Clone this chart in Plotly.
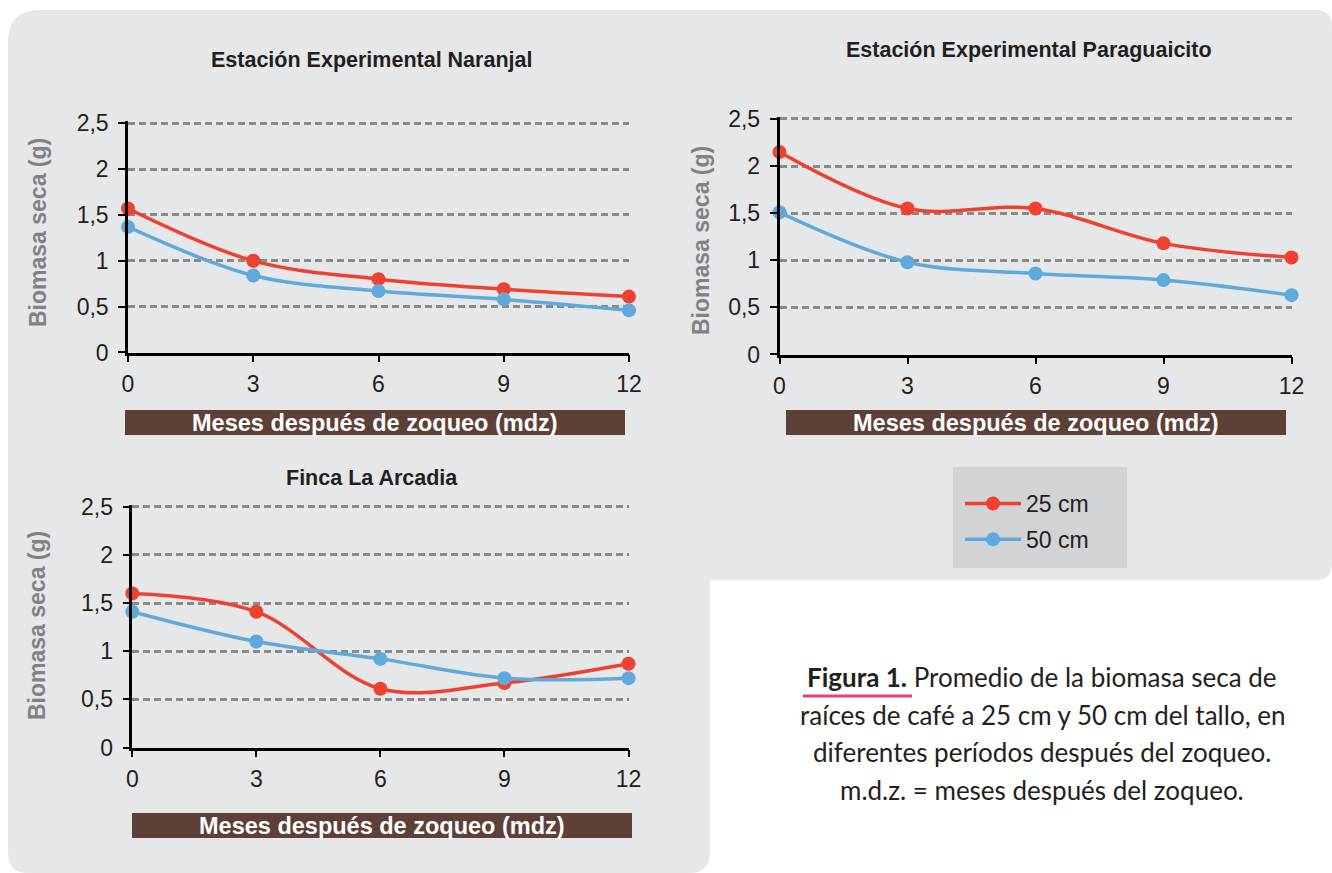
import plotly.graph_objects as go

# ---------------- data ----------------
months = [0, 3, 6, 9, 12]
series_names = ["25 cm", "50 cm"]

naranjal_25 = [1.57, 1.00, 0.80, 0.69, 0.61]
naranjal_50 = [1.37, 0.84, 0.67, 0.58, 0.46]

paraguaicito_25 = [2.15, 1.55, 1.55, 1.18, 1.03]
paraguaicito_50 = [1.51, 0.98, 0.86, 0.79, 0.63]

arcadia_25 = [1.60, 1.41, 0.61, 0.67, 0.87]
arcadia_50 = [1.41, 1.10, 0.92, 0.72, 0.72]

y_ticks = [0, 0.5, 1, 1.5, 2, 2.5]
y_ticktext = ["0", "0,5", "1", "1,5", "2", "2,5"]
x_ticks = [0, 3, 6, 9, 12]

titles = ["Estación Experimental Naranjal",
          "Estación Experimental Paraguaicito",
          "Finca La Arcadia"]
x_label = "Meses después de zoqueo (mdz)"
y_label = "Biomasa seca (g)"
caption_lines = [
    "<b>Figura 1.</b> Promedio de la biomasa seca de",
    "raíces de café a 25 cm y 50 cm del tallo, en",
    "diferentes períodos después del zoqueo.",
    "m.d.z. = meses después del zoqueo.",
]

# ---------------- layout helpers ----------------
W, H = 1332, 873
def fx(px):
    return px / W
def fy(py):
    return 1 - py / H

RED = "#ef4130"
BLUE = "#60a9dd"
BG = "#e6e7e8"
BROWN = "#5d4037"
GRAY_TXT = "#808285"
TXT = "#231f20"
YMAX = 2.52

fig = go.Figure()

panels = [
    ("x", "y", naranjal_25, naranjal_50, True),
    ("x2", "y2", paraguaicito_25, paraguaicito_50, False),
    ("x3", "y3", arcadia_25, arcadia_50, False),
]
for xa, ya, s25, s50, show in panels:
    for name, vals, col in ((series_names[0], s25, RED), (series_names[1], s50, BLUE)):
        fig.add_trace(go.Scatter(
            x=months, y=vals, name=name, xaxis=xa, yaxis=ya,
            mode="lines+markers",
            line=dict(color=col, width=3.5, shape="spline", smoothing=1.0),
            marker=dict(color=col, size=14),
            cliponaxis=False,
            legendgroup=name, showlegend=show,
        ))

# pixel positions: (x of value 0, x of value 12), (y of value 0, y of value 2.5)
domains = {
    "1": ((128, 629), (352.5, 123.3)),
    "2": ((779.5, 1291.5), (354.5, 119)),
    "3": ((132.3, 628.5), (747.5, 506.7)),
}

def ydom(py0, py25):
    top = py0 - (py0 - py25) * YMAX / 2.5
    return [fy(py0), fy(top)]

def xaxis_cfg(dom):
    return dict(
        domain=[fx(dom[0]), fx(dom[1])], range=[0, 12],
        tickvals=x_ticks, ticks="outside", ticklen=7, tickwidth=2, tickcolor="black",
        showline=True, linecolor="black", linewidth=2.5,
        showgrid=False, zeroline=False, automargin=False,
        tickfont=dict(family="Liberation Sans, Arial", size=23, color=TXT),
        ticklabelstandoff=2, fixedrange=True,
    )

def yaxis_cfg(dom, anchor):
    return dict(
        domain=ydom(dom[0], dom[1]), range=[0, YMAX], anchor=anchor,
        tickvals=y_ticks, ticktext=y_ticktext,
        ticks="outside", ticklen=7, tickwidth=2, tickcolor="black",
        showline=True, linecolor="black", linewidth=2.5,
        showgrid=True, gridcolor="#8a8a8a", gridwidth=2.5, griddash="7px,4px",
        zeroline=False, automargin=False,
        tickfont=dict(family="Liberation Sans, Arial", size=23, color=TXT),
        ticklabelstandoff=5, fixedrange=True,
    )

fig.update_layout(
    xaxis=dict(xaxis_cfg(domains["1"][0]), anchor="y"),
    yaxis=yaxis_cfg(domains["1"][1], "x"),
    xaxis2=dict(xaxis_cfg(domains["2"][0]), anchor="y2"),
    yaxis2=yaxis_cfg(domains["2"][1], "x2"),
    xaxis3=dict(xaxis_cfg(domains["3"][0]), anchor="y3"),
    yaxis3=yaxis_cfg(domains["3"][1], "x3"),
)

# ---------------- background panel ----------------
def P(px, py):
    return f"{fx(px):.5f},{fy(py):.5f}"
path = (
    f"M {P(8, 42)} Q {P(8, 10)} {P(40, 10)} "
    f"L {P(1316, 10)} Q {P(1332, 10)} {P(1332, 26)} "
    f"L {P(1332, 564)} Q {P(1332, 580)} {P(1316, 580)} "
    f"L {P(710, 580)} L {P(710, 853)} Q {P(710, 873)} {P(690, 873)} "
    f"L {P(28, 873)} Q {P(8, 873)} {P(8, 853)} Z"
)
shapes = [dict(type="path", path=path, xref="paper", yref="paper",
               fillcolor=BG, line=dict(width=0), layer="below")]

# legend box
shapes.append(dict(type="rect", xref="paper", yref="paper",
                   x0=fx(953), x1=fx(1127), y0=fy(568), y1=fy(467),
                   fillcolor="#d1d3d4", line=dict(width=0), layer="below"))

# brown x-label bars
bars = [((125, 625), (410, 435)), ((786, 1286), (410, 435)), ((132, 632), (813, 838))]
annotations = []
for (bx0, bx1), (by0, by1) in bars:
    shapes.append(dict(type="rect", xref="paper", yref="paper",
                       x0=fx(bx0), x1=fx(bx1), y0=fy(by1), y1=fy(by0),
                       fillcolor=BROWN, line=dict(width=0), layer="below"))
    annotations.append(dict(text=f"<b>{x_label}</b>", xref="paper", yref="paper",
                            x=fx((bx0 + bx1) / 2), y=fy((by0 + by1) / 2),
                            xanchor="center", yanchor="middle", showarrow=False,
                            font=dict(family="Liberation Sans, Arial", size=23.5, color="white")))

# titles
title_pos = [(372, 60), (1029, 50), (372, 478)]
for t, (tx, ty) in zip(titles, title_pos):
    annotations.append(dict(text=f"<b>{t}</b>", xref="paper", yref="paper",
                            x=fx(tx), y=fy(ty), xanchor="center", yanchor="middle",
                            showarrow=False,
                            font=dict(family="Liberation Sans, Arial", size=21.5, color=TXT)))

# y-axis titles
ylab_pos = [(38, 233), (701, 241), (37, 626)]
for (lx, ly) in ylab_pos:
    annotations.append(dict(text=f"<b>{y_label}</b>", xref="paper", yref="paper",
                            x=fx(lx), y=fy(ly), xanchor="center", yanchor="middle",
                            textangle=-90, showarrow=False,
                            font=dict(family="Liberation Sans, Arial", size=23, color=GRAY_TXT)))

# caption
cap_y = [677, 714.5, 752, 789.5]
for line, cy in zip(caption_lines, cap_y):
    annotations.append(dict(text=line, xref="paper", yref="paper",
                            x=fx(1042), y=fy(cy), xanchor="center", yanchor="middle",
                            showarrow=False,
                            font=dict(family="Lato, Noto Sans", size=26, color=TXT)))
shapes.append(dict(type="line", xref="paper", yref="paper",
                   x0=fx(803), x1=fx(912), y0=fy(696), y1=fy(696),
                   line=dict(color="#e9436c", width=3)))

fig.update_layout(
    width=W, height=H,
    margin=dict(l=0, r=0, t=0, b=0, autoexpand=False),
    paper_bgcolor="white", plot_bgcolor="rgba(0,0,0,0)",
    shapes=shapes, annotations=annotations,
    showlegend=True,
    legend=dict(x=fx(960), y=fy(482), xanchor="left", yanchor="top",
                bgcolor="rgba(0,0,0,0)", borderwidth=0,
                font=dict(family="Liberation Sans, Arial", size=23, color=TXT),
                tracegroupgap=3, itemwidth=56, traceorder="grouped"),
    separators=",.",
)

fig.write_html("out.html",
               config={"displayModeBar": False},
               post_script="document.body.style.margin='0';document.body.style.overflow='hidden';")
